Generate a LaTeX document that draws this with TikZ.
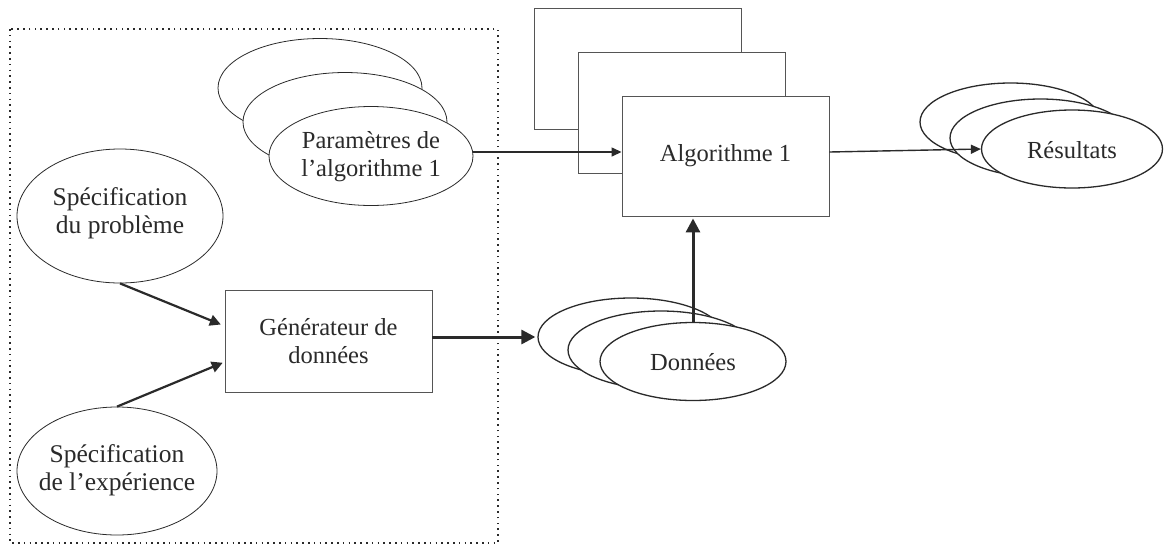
\documentclass[tikz,border=0pt]{standalone}
\usepackage{fontspec}
\setmainfont{Liberation Serif}
\usetikzlibrary{shapes.geometric,arrows.meta}
\definecolor{ink}{HTML}{2A2A2A}
\definecolor{boxline}{HTML}{555555}
\newcommand\diaglbl{\fontsize{24.5}{28}\selectfont}
\newcommand\diagspec{\fontsize{25.5}{28}\selectfont}
\begin{document}
\begin{tikzpicture}[x=1pt,y=-1pt,
  ellbase/.style={ellipse,draw=ink,fill=white,inner sep=0pt},
  parell/.style={ellbase,line width=0.8pt,minimum width=204pt,minimum height=99pt},
  specell/.style={ellbase,line width=0.8pt},
  datell/.style={ellbase,line width=1.3pt,minimum width=186pt,minimum height=78pt},
  resell/.style={ellbase,line width=1.3pt,minimum width=181pt,minimum height=78pt},
  lbl/.style={inner sep=0pt,align=center,font=\diaglbl,text=ink},
  speclbl/.style={lbl,font=\diagspec},
  algbox/.style={rectangle,draw=boxline,fill=white,line width=0.9pt,minimum width=207pt,minimum height=121pt,inner sep=0pt,font=\diaglbl,text=ink},
  genbox/.style={rectangle,draw=boxline,fill=white,line width=0.9pt,minimum width=207pt,minimum height=102pt,inner sep=0pt,align=center,font=\diaglbl,text=ink},
  thinarr/.style={draw=ink,line width=1.4pt,-{Triangle[length=10pt,width=9pt]}},
  medarr/.style={draw=ink,line width=2.2pt,-{Triangle[length=11pt,width=11pt]}},
  thickarr/.style={draw=ink,line width=3pt,-{Triangle[length=14pt,width=14pt]}},
  frame/.style={draw=ink,line width=1.8pt,dash pattern=on 1.6pt off 4.2pt}
]
\useasboundingbox (0,0) rectangle (1165,547);
\fill[white] (0,0) rectangle (1165,547);

% dotted frame
\draw[frame] (10,29) rectangle (498,543);

% parameter ellipses
\node[parell] (pb) at (320,88) {};
\node[parell] (pm) at (345,122) {};
\node[parell] (pf) at (371,156) {};
\node[lbl] (pfl) at (371,157) {Paramètres de\\l’algorithme 1};

% specification ellipses
\node[specell,minimum width=206pt,minimum height=134pt] (sp) at (120,216) {};
\node[speclbl] (spl) at (120,213) {Spécification\\du problème};
\node[specell,minimum width=200pt,minimum height=128pt] (se) at (117,471) {};
\node[speclbl] (sel) at (117,470) {Spécification\\de l’expérience};

% data generator
\node[genbox] (gen) at (328.5,341) {Générateur de\\données};

% algorithm boxes
\node[algbox] (ab) at (637.5,69) {};
\node[algbox] (am) at (681.5,112.5) {};
\node[algbox,minimum height=120pt] (af) at (725.5,156) {Algorithme 1};

% data ellipses
\node[datell] (db) at (631,337) {};
\node[datell] (dm) at (661,350) {};
\node[datell] (df) at (693,361.5) {};
\node[lbl] (dfl) at (693,362) {Données};

% result ellipses
\node[resell] (rb) at (1010.5,122) {};
\node[resell] (rm) at (1040.5,138) {};
\node[resell] (rf) at (1072,149) {};
\node[lbl] (rfl) at (1072,150) {Résultats};

% connectors
\draw[medarr,shorten >=4pt] (sp.south) -- ([yshift=15pt]gen.west);
\draw[medarr,shorten >=2pt] (se.north) -- ([yshift=-21pt]gen.west);
\draw[thickarr,shorten >=2pt] ([yshift=4pt]gen.east) -- (db.west);
\draw[thickarr,shorten >=2pt] (df.north) -- (df.north |- af.south);
\draw[thinarr] ([yshift=4pt]pf.east) -- ([yshift=4pt]af.west);
\draw[thinarr] ([yshift=4pt]af.east) -- (rf.west);
\end{tikzpicture}
\end{document}
